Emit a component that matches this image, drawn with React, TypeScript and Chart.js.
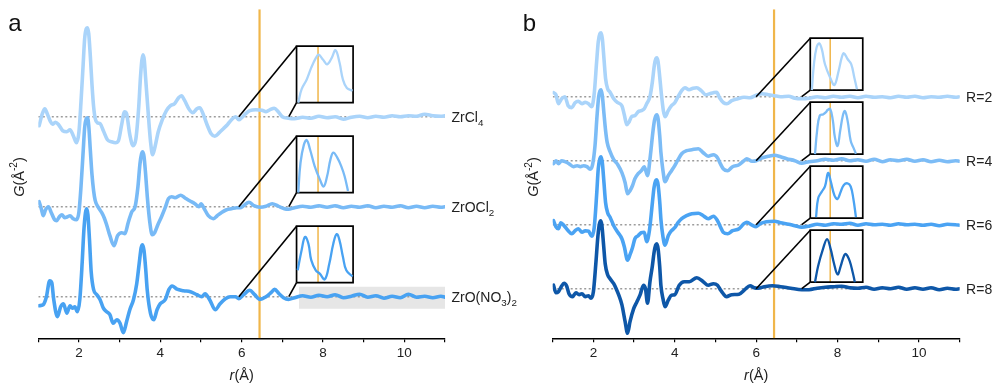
import React, { useEffect, useRef } from 'react';
import { Chart, registerables } from 'chart.js';

Chart.register(...registerables);

type P = [number, number];

// ---------- axis ----------
const R_MIN = 1;
const R_MAX = 11;
const R_LABELED = [2, 4, 6, 8, 10];
const MARK_R = 6.44; // orange marker position (Å)

// ---------- panel a: G(r) curves (value relative to own baseline) ----------
const ZRCL4: P[] = [
  [1.02, -0.9], [1.1, 0.3], [1.16, 0.8], [1.22, 0.3], [1.3, -0.5], [1.35, -0.75], [1.42, -0.55], [1.5, -0.8],
  [1.6, -1.4], [1.7, -1.5], [1.78, -1.3], [1.86, -1.9], [1.94, -2.6], [2.0, -1.5], [2.05, 1.5], [2.1, 5.0],
  [2.14, 7.8], [2.18, 8.8], [2.21, 8.9], [2.24, 8.3], [2.28, 6.0], [2.32, 3.2], [2.36, 1.0], [2.4, -0.2],
  [2.45, -0.6], [2.52, -0.7], [2.6, -1.4], [2.7, -2.3], [2.8, -2.5], [2.9, -2.6], [2.97, -2.4], [3.05, -0.8],
  [3.12, 0.5], [3.17, 0.3], [3.25, -1.8], [3.33, -2.9], [3.4, -2.2], [3.47, 1.0], [3.51, 3.8], [3.545, 5.6],
  [3.575, 6.2], [3.605, 5.7], [3.64, 3.8], [3.7, 0.5], [3.76, -2.5], [3.81, -3.8], [3.87, -3.0], [3.95, -1.5],
  [4.05, -0.3], [4.15, 0.6], [4.25, 1.1], [4.35, 1.3], [4.45, 1.9], [4.52, 2.1], [4.6, 1.6], [4.7, 0.8],
  [4.8, 0.4], [4.9, 0.8], [4.97, 0.9], [5.05, 0.3], [5.15, -0.8], [5.25, -1.7], [5.34, -1.95], [5.45, -1.6],
  [5.55, -1.2], [5.65, -0.8], [5.75, -0.3], [5.85, 0.0], [5.93, -0.3], [6.0, -0.1], [6.1, 0.3], [6.2, 0.6],
  [6.35, 0.7], [6.5, 0.65], [6.6, 0.5], [6.7, 0.7], [6.8, 0.85], [6.9, 0.5], [7.0, 0.0], [7.15, -0.15],
  [7.3, -0.2], [7.5, -0.05], [7.7, -0.15], [7.9, 0.05], [8.1, -0.1], [8.3, 0.0], [8.5, -0.25], [8.7, -0.05],
  [8.9, 0.05], [9.1, -0.1], [9.3, 0.05], [9.5, -0.05], [9.7, 0.1], [9.9, 0.0], [10.1, 0.1], [10.3, 0.05],
  [10.5, 0.25], [10.7, 0.1], [10.9, 0.05], [11.0, 0.1],
];
const ZROCL2: P[] = [
  [1.02, 0.5], [1.08, -0.3], [1.12, -0.9], [1.18, -0.3], [1.25, 0.0], [1.32, -0.6], [1.4, -1.3], [1.45, -1.4],
  [1.52, -1.0], [1.58, -0.8], [1.65, -1.1], [1.72, -1.0], [1.78, -0.9], [1.86, -1.2], [1.94, -1.3], [2.0, -0.5],
  [2.05, 2.0], [2.1, 5.3], [2.14, 7.9], [2.18, 8.8], [2.21, 8.9], [2.24, 8.1], [2.28, 5.6], [2.32, 3.2],
  [2.36, 1.6], [2.4, 0.6], [2.48, -0.1], [2.56, -0.6], [2.62, -1.1], [2.68, -1.8], [2.76, -2.9], [2.86, -3.9],
  [2.95, -2.9], [3.05, -2.6], [3.13, -2.7], [3.21, -1.6], [3.3, -0.5], [3.38, 0.0], [3.45, 2.0], [3.5, 4.3],
  [3.54, 5.3], [3.57, 5.5], [3.6, 5.0], [3.64, 3.2], [3.68, 1.0], [3.74, -1.5], [3.8, -2.8], [3.86, -2.6],
  [3.94, -1.8], [4.04, -0.9], [4.12, -0.1], [4.2, 0.8], [4.28, 1.0], [4.36, 0.9], [4.5, 1.15], [4.6, 0.9],
  [4.72, 0.6], [4.85, 0.3], [4.95, 0.0], [5.0, 0.3], [5.08, -0.2], [5.18, -0.9], [5.3, -1.2], [5.4, -0.9],
  [5.5, -0.6], [5.63, -0.3], [5.75, -0.2], [5.88, -0.1], [5.96, -0.1], [6.05, 0.1], [6.18, 0.45], [6.3, 0.1],
  [6.45, -0.05], [6.6, 0.05], [6.75, 0.3], [6.9, 0.05], [7.05, -0.2], [7.15, -0.25], [7.3, -0.1], [7.5, 0.05],
  [7.7, -0.05], [7.9, 0.1], [8.1, -0.05], [8.3, 0.1], [8.5, -0.1], [8.7, 0.05], [8.9, -0.05], [9.1, 0.1],
  [9.3, -0.1], [9.5, 0.05], [9.7, -0.05], [9.9, 0.1], [10.1, -0.1], [10.3, 0.05], [10.5, -0.1], [10.7, 0.05],
  [10.9, -0.05], [11.0, 0.0],
];
const ZRONO32: P[] = [
  [1.02, -0.9], [1.12, -0.8], [1.2, 0.0], [1.28, 1.6], [1.33, 1.4], [1.38, -0.3], [1.47, -2.0], [1.55, -1.0],
  [1.62, -0.7], [1.7, -1.65], [1.78, -0.9], [1.84, -1.15], [1.9, -1.0], [1.96, -1.5], [2.02, -0.3], [2.08, 3.5],
  [2.12, 6.6], [2.16, 8.4], [2.19, 8.8], [2.22, 8.2], [2.26, 5.6], [2.3, 2.5], [2.36, 0.7], [2.44, 0.2],
  [2.52, -0.3], [2.6, -1.15], [2.68, -1.5], [2.76, -1.8], [2.84, -2.65], [2.93, -2.3], [3.01, -2.65], [3.09, -3.6],
  [3.17, -2.5], [3.25, -1.3], [3.34, -0.3], [3.42, 1.3], [3.48, 3.3], [3.53, 4.9], [3.565, 5.2], [3.6, 4.6],
  [3.64, 2.8], [3.68, 0.6], [3.76, -1.7], [3.84, -2.3], [3.92, -1.3], [4.0, -0.7], [4.12, -0.3], [4.21, 0.7],
  [4.29, 1.07], [4.41, 0.75], [4.57, 0.6], [4.74, 0.5], [4.9, 0.2], [5.02, 0.0], [5.1, 0.3], [5.22, -0.35],
  [5.35, -1.3], [5.47, -0.7], [5.6, -0.2], [5.72, 0.0], [5.85, 0.0], [5.93, -0.2], [6.05, 0.2], [6.2, 0.65],
  [6.32, 0.2], [6.45, -0.27], [6.6, 0.0], [6.72, 0.4], [6.81, 0.73], [6.92, 0.3], [7.03, -0.1], [7.15, -0.27],
  [7.3, -0.1], [7.5, 0.1], [7.7, -0.05], [7.9, 0.15], [8.1, 0.0], [8.3, 0.2], [8.5, -0.1], [8.7, 0.05],
  [8.9, 0.25], [9.1, -0.05], [9.3, 0.1], [9.5, -0.15], [9.7, 0.05], [9.9, -0.1], [10.1, 0.25], [10.3, -0.05],
  [10.5, 0.05], [10.7, -0.1], [10.9, 0.05], [11.0, -0.05],
];

// ---------- panel b ----------
const R2: P[] = [
  [1.02, 0.4], [1.08, 0.2], [1.14, -0.7], [1.22, -0.2], [1.3, 0.0], [1.38, -0.9], [1.47, -1.1], [1.55, -0.6],
  [1.63, -0.45], [1.72, -0.7], [1.8, -0.55], [1.88, -0.7], [1.96, -1.0], [2.02, 0.3], [2.08, 3.5], [2.12, 5.5],
  [2.16, 6.3], [2.19, 6.4], [2.22, 5.8], [2.26, 3.8], [2.3, 1.8], [2.35, 0.8], [2.41, 0.45], [2.5, -0.2],
  [2.6, -0.6], [2.7, -0.9], [2.76, -1.8], [2.82, -2.8], [2.88, -2.5], [2.94, -2.0], [3.02, -1.9], [3.1, -1.5],
  [3.18, -1.4], [3.25, -1.2], [3.31, -0.7], [3.39, 0.0], [3.45, 1.5], [3.5, 3.2], [3.535, 3.8], [3.56, 3.9],
  [3.59, 3.5], [3.63, 2.0], [3.67, 0.3], [3.72, -1.4], [3.76, -2.0], [3.84, -1.4], [3.92, -0.9], [4.0, -0.6],
  [4.08, 0.0], [4.17, 0.6], [4.25, 0.9], [4.35, 0.7], [4.45, 0.85], [4.54, 0.9], [4.65, 0.6], [4.76, 0.2],
  [4.86, 0.3], [4.95, 0.4], [5.03, 0.45], [5.1, -0.1], [5.2, -0.6], [5.28, -0.7], [5.4, -0.4], [5.55, -0.2],
  [5.7, -0.05], [5.85, -0.1], [6.0, 0.15], [6.15, 0.3], [6.3, 0.2], [6.45, 0.1], [6.6, 0.0], [6.8, 0.05],
  [6.95, -0.15], [7.12, -0.2], [7.3, -0.15], [7.5, 0.0], [7.7, -0.1], [7.9, 0.05], [8.1, -0.05], [8.3, 0.05],
  [8.5, -0.1], [8.7, 0.05], [8.9, -0.05], [9.1, 0.0], [9.3, -0.1], [9.5, 0.05], [9.7, -0.05], [9.9, 0.05],
  [10.1, -0.1], [10.3, 0.0], [10.5, -0.05], [10.7, 0.05], [10.9, -0.05], [11.0, 0.0],
];
const R4: P[] = [
  [1.02, -0.3], [1.08, 0.0], [1.14, -0.3], [1.22, 0.0], [1.3, -0.1], [1.4, -0.3], [1.51, -0.6], [1.6, -0.5],
  [1.68, -0.6], [1.76, -0.5], [1.84, -0.6], [1.92, -0.85], [1.98, -0.4], [2.04, 1.5], [2.09, 4.5], [2.13, 6.4],
  [2.165, 7.0], [2.19, 7.1], [2.22, 6.5], [2.26, 4.7], [2.3, 3.0], [2.34, 1.8], [2.41, 0.9], [2.5, 0.1],
  [2.6, -0.4], [2.7, -1.2], [2.78, -2.2], [2.84, -3.3], [2.9, -3.0], [2.96, -2.5], [3.02, -1.8], [3.1, -1.3],
  [3.18, -1.0], [3.25, -0.6], [3.33, -1.5], [3.4, 0.5], [3.46, 2.8], [3.5, 4.0], [3.535, 4.5], [3.56, 4.6],
  [3.59, 4.2], [3.63, 2.5], [3.66, 0.8], [3.71, -1.0], [3.76, -2.1], [3.84, -1.5], [3.92, -1.0], [4.0, -0.5],
  [4.08, 0.1], [4.17, 0.7], [4.29, 1.0], [4.42, 1.1], [4.58, 1.2], [4.7, 0.8], [4.82, 0.45], [4.95, 0.6],
  [5.05, 0.3], [5.12, -0.3], [5.19, -0.8], [5.3, -1.0], [5.42, -0.6], [5.58, -0.4], [5.7, 0.0], [5.77, 0.2],
  [5.9, -0.05], [6.0, 0.0], [6.15, 0.3], [6.3, 0.45], [6.45, 0.55], [6.6, 0.4], [6.75, 0.2], [6.95, 0.0],
  [7.12, -0.25], [7.3, -0.1], [7.5, 0.0], [7.7, 0.15], [7.9, 0.05], [8.1, 0.2], [8.3, 0.0], [8.5, 0.1],
  [8.7, -0.05], [8.9, 0.15], [9.1, -0.1], [9.3, 0.1], [9.5, 0.0], [9.7, 0.15], [9.9, -0.05], [10.1, 0.1],
  [10.3, -0.1], [10.5, 0.05], [10.7, -0.1], [10.9, 0.0], [11.0, -0.05],
];
const R6: P[] = [
  [1.02, 0.4], [1.08, -0.2], [1.14, -0.4], [1.2, 0.2], [1.28, -0.1], [1.36, -0.5], [1.47, -0.9], [1.55, -0.6],
  [1.63, -0.4], [1.72, -0.75], [1.8, -0.6], [1.88, -0.65], [1.96, -1.15], [2.02, -0.3], [2.08, 3.0], [2.12, 5.6],
  [2.16, 6.6], [2.19, 6.8], [2.22, 6.2], [2.26, 4.2], [2.3, 2.2], [2.35, 1.2], [2.41, 0.75], [2.5, -0.1],
  [2.6, -0.75], [2.7, -1.4], [2.76, -2.2], [2.84, -3.55], [2.9, -3.0], [2.96, -2.3], [3.02, -1.4], [3.1, -1.1],
  [3.18, -0.8], [3.25, -0.75], [3.31, -1.7], [3.38, -0.5], [3.45, 2.2], [3.49, 3.7], [3.53, 4.4], [3.56, 4.5],
  [3.59, 4.0], [3.63, 2.3], [3.66, 0.5], [3.71, -1.2], [3.76, -2.05], [3.84, -1.1], [3.92, -0.6], [4.0, -0.3],
  [4.08, 0.2], [4.17, 0.6], [4.29, 0.9], [4.42, 1.1], [4.58, 1.15], [4.7, 0.9], [4.82, 0.6], [4.95, 0.85],
  [5.05, 0.4], [5.12, -0.2], [5.19, -0.75], [5.3, -0.9], [5.42, -0.6], [5.58, -0.4], [5.7, 0.1], [5.77, 0.25],
  [5.9, -0.05], [6.0, -0.2], [6.1, 0.1], [6.25, 0.3], [6.45, 0.35], [6.6, 0.2], [6.8, 0.05], [6.95, -0.1],
  [7.12, -0.25], [7.3, -0.15], [7.5, 0.05], [7.7, -0.05], [7.9, 0.1], [8.1, 0.05], [8.3, 0.15], [8.5, -0.05],
  [8.7, 0.1], [8.9, 0.0], [9.1, 0.05], [9.3, -0.05], [9.5, 0.1], [9.7, 0.0], [9.9, 0.05], [10.1, -0.05],
  [10.3, 0.05], [10.5, -0.1], [10.7, 0.05], [10.9, 0.0], [11.0, -0.05],
];
const R8: P[] = [
  [1.02, 0.35], [1.08, -0.4], [1.14, -0.3], [1.21, 0.2], [1.28, 0.55], [1.34, 0.3], [1.4, -0.5], [1.49, -0.8],
  [1.57, -0.4], [1.65, -0.6], [1.72, -0.5], [1.8, -0.8], [1.88, -0.7], [1.94, -0.95], [2.0, -0.3], [2.06, 2.5],
  [2.11, 5.2], [2.15, 6.5], [2.185, 6.8], [2.21, 6.3], [2.25, 4.4], [2.29, 2.5], [2.35, 1.4], [2.41, 1.0],
  [2.5, 0.5], [2.56, 0.0], [2.62, -0.6], [2.7, -1.6], [2.78, -3.3], [2.84, -4.45], [2.9, -3.3], [2.99, -2.0],
  [3.07, -1.3], [3.15, -0.6], [3.23, 0.35], [3.28, 0.0], [3.33, -1.45], [3.39, 0.7], [3.45, 2.3], [3.49, 3.6],
  [3.53, 4.35], [3.56, 4.5], [3.59, 4.0], [3.63, 2.2], [3.66, 0.3], [3.71, -1.0], [3.76, -1.8], [3.84, -1.15],
  [3.92, -0.65], [4.0, -0.6], [4.11, 0.35], [4.23, 0.7], [4.36, 0.7], [4.54, 1.1], [4.7, 0.7], [4.82, 0.35],
  [4.95, 0.5], [5.05, 0.35], [5.12, -0.1], [5.19, -0.5], [5.27, -0.8], [5.4, -0.6], [5.58, -0.55], [5.72, -0.1],
  [5.85, 0.3], [5.95, 0.1], [6.05, 0.05], [6.2, 0.2], [6.4, 0.3], [6.6, 0.2], [6.85, 0.05], [7.12, -0.1],
  [7.3, -0.1], [7.5, 0.05], [7.7, 0.15], [7.9, 0.2], [8.1, 0.25], [8.3, 0.1], [8.5, 0.05], [8.7, 0.15],
  [8.9, -0.05], [9.1, 0.1], [9.3, 0.0], [9.5, 0.15], [9.7, -0.05], [9.9, 0.1], [10.1, -0.05], [10.3, 0.1],
  [10.5, -0.1], [10.7, 0.05], [10.9, -0.05], [11.0, 0.0],
];

// ---------- zoomed insets (normalised 0..1 within each box) ----------
const INSET_ZRCL4: P[] = [[0.03, 0], [0.09, 0.24], [0.18, 0.41], [0.26, 0.62], [0.34, 0.79], [0.39, 0.85], [0.47, 0.76], [0.54, 0.68], [0.62, 0.79], [0.69, 0.93], [0.76, 0.71], [0.82, 0.41], [0.89, 0.26], [0.99, 0.21]];
const INSET_ZROCL2: P[] = [[0.03, 0], [0.07, 0.53], [0.13, 0.85], [0.18, 0.93], [0.24, 0.76], [0.32, 0.47], [0.41, 0.24], [0.48, 0.11], [0.54, 0.29], [0.6, 0.59], [0.65, 0.71], [0.72, 0.62], [0.79, 0.47], [0.85, 0.29], [0.91, 0.03]];
const INSET_ZRONO32: P[] = [[0.02, 0.22], [0.09, 0.58], [0.15, 0.81], [0.21, 0.69], [0.26, 0.4], [0.34, 0.22], [0.41, 0.16], [0.5, 0.06], [0.58, 0.34], [0.65, 0.69], [0.71, 0.86], [0.76, 0.75], [0.82, 0.46], [0.88, 0.22], [0.99, 0.11]];
const INSET_R2: P[] = [[0.03, 0], [0.07, 0.5], [0.12, 0.82], [0.17, 0.9], [0.22, 0.79], [0.28, 0.5], [0.38, 0.24], [0.46, 0.1], [0.54, 0.37], [0.6, 0.63], [0.64, 0.71], [0.71, 0.6], [0.78, 0.5], [0.84, 0.24], [0.89, 0.02]];
const INSET_R4: P[] = [[0.09, 0], [0.13, 0.45], [0.18, 0.74], [0.25, 0.77], [0.3, 0.81], [0.33, 0.85], [0.38, 0.87], [0.43, 0.65], [0.47, 0.32], [0.52, 0.16], [0.57, 0.45], [0.62, 0.74], [0.66, 0.83], [0.71, 0.65], [0.77, 0.26], [0.82, 0.13], [0.87, 0.01]];
const INSET_R6: P[] = [[0.11, 0.02], [0.15, 0.38], [0.22, 0.51], [0.28, 0.61], [0.34, 0.87], [0.39, 0.71], [0.46, 0.44], [0.52, 0.37], [0.58, 0.51], [0.64, 0.64], [0.71, 0.67], [0.77, 0.61], [0.82, 0.38], [0.87, 0.02]];
const INSET_R8: P[] = [[0.09, 0], [0.15, 0.31], [0.24, 0.63], [0.32, 0.83], [0.39, 0.63], [0.45, 0.37], [0.52, 0.15], [0.58, 0.31], [0.64, 0.5], [0.68, 0.54], [0.75, 0.41], [0.81, 0.18], [0.85, 0]];
const INSET_MARK_U = 0.38;

// ---------- labels / offsets / colours ----------
const A_LABELS = ['ZrCl_4', 'ZrOCl_2', 'ZrO(NO_3)_2'];
const B_LABELS = ['R=2', 'R=4', 'R=6', 'R=8'];
const A_OFFSETS = [18, 9, 0];
const B_OFFSETS = [19.2, 12.8, 6.4, 0];
const A_COLORS = ['#AAD4FA', '#78BAF6', '#48A2F2'];
const B_COLORS = ['#AAD4FA', '#7CBCF6', '#4AA3F3', '#0E57A8'];
const ORANGE = '#F0B64A';
const FONT = '"Liberation Sans", Arial, Helvetica, sans-serif';

const PANELS = [
  {
    id: 'a', letter: 'a', left: 0, width: 530,
    curves: [ZRCL4, ZROCL2, ZRONO32], insets: [INSET_ZRCL4, INSET_ZROCL2, INSET_ZRONO32],
    labels: A_LABELS, offsets: A_OFFSETS, colors: A_COLORS,
    yMin: -4.16, yMax: 28.74, leftW: 38.3, rightPad: 85,
    box: { x0: 7.35, x1: 8.74, y0: 1.4, y1: 7.05 }, zoomFrom: [5.93, 7.16],
    band: { x0: 7.41, x1: 11, y0: -1.2, y1: 1.0, index: 2 },
  },
  {
    id: 'b', letter: 'b', left: 500, width: 493,
    curves: [R2, R4, R6, R8], insets: [INSET_R2, INSET_R4, INSET_R6, INSET_R8],
    labels: B_LABELS, offsets: B_OFFSETS, colors: B_COLORS,
    yMin: -4.96, yMax: 27.94, leftW: 52.7, rightPad: 33.4,
    box: { x0: 7.33, x1: 8.62, y0: 0.65, y1: 5.85 }, zoomFrom: [6.0, 7.12],
    band: null,
  },
];

type Seg = { t: string; sub?: boolean; sup?: boolean; italic?: boolean };

function parseLabel(s: string): Seg[] {
  return s.split(/(_\d)/).filter(Boolean).map((p) => (p.startsWith('_') ? { t: p.slice(1), sub: true } : { t: p }));
}

function drawRich(ctx: CanvasRenderingContext2D, segs: Seg[], x: number, y: number, size: number, align: string) {
  const fontOf = (s: Seg) => `${s.italic ? 'italic ' : ''}${s.sub || s.sup ? size * 0.7 : size}px ${FONT}`;
  let total = 0;
  const widths = segs.map((s) => {
    ctx.font = fontOf(s);
    const w = ctx.measureText(s.t).width;
    total += w;
    return w;
  });
  let cx = align === 'center' ? x - total / 2 : x;
  const base = y + size * 0.36;
  ctx.textBaseline = 'alphabetic';
  ctx.textAlign = 'left';
  segs.forEach((s, i) => {
    ctx.font = fontOf(s);
    const dy = s.sub ? size * 0.28 : s.sup ? -size * 0.42 : 0;
    ctx.fillText(s.t, cx, base + dy);
    cx += widths[i];
  });
}

function textPlugin(panel: any) {
  return {
    id: 'texts_' + panel.id,
    afterDraw(chart: any) {
      const { ctx, chartArea, scales } = chart;
      ctx.save();
      ctx.fillStyle = '#222';
      panel.labels.forEach((lab: string, i: number) => {
        const y = scales.y.getPixelForValue(panel.offsets[i]);
        drawRich(ctx, parseLabel(lab), chartArea.right + 6.5, y, 14, 'left');
      });
      ctx.fillStyle = '#111';
      ctx.font = `24px ${FONT}`;
      ctx.textBaseline = 'alphabetic';
      ctx.textAlign = 'left';
      ctx.fillText(panel.letter, chartArea.left - 30, 31);
      ctx.fillStyle = '#222';
      ctx.save();
      ctx.translate(chartArea.left - 20, 177);
      ctx.rotate(-Math.PI / 2);
      drawRich(ctx, [{ t: 'G', italic: true }, { t: '(Å' }, { t: '-2', sup: true }, { t: ')' }], 0, 0, 14.5, 'center');
      ctx.restore();
      drawRich(ctx, [{ t: 'r', italic: true }, { t: '(Å)' }], (chartArea.left + chartArea.right) / 2, 375, 14.5, 'center');
      ctx.restore();
    },
  };
}

function buildDatasets(panel: any) {
  const ds: any[] = [];
  const b = panel.box;
  const line = (data: any[], color: string, width: number, order: number, extra: any = {}) => ({
    data, borderColor: color, borderWidth: width, pointRadius: 0, order, tension: 0, fill: false, ...extra,
  });
  panel.curves.forEach((curve: P[], i: number) => {
    const off = panel.offsets[i];
    ds.push(line(curve.map(([x, y]) => ({ x, y: y + off })), panel.colors[i], 3.6, 2, { cubicInterpolationMode: 'monotone', borderJoinStyle: 'round', borderCapStyle: 'round' }));
    ds.push(line([{ x: R_MIN, y: off }, { x: R_MAX, y: off }], '#9C9C9C', 1.5, 4, { borderDash: [2, 2.5] }));
    ds.push(line([
      { x: b.x0, y: off + b.y0 }, { x: b.x1, y: off + b.y0 }, { x: b.x1, y: off + b.y1 },
      { x: b.x0, y: off + b.y1 }, { x: b.x0, y: off + b.y0 },
    ], '#000', 1.7, 1, { borderJoinStyle: 'miter' }));
    ds.push(line([{ x: panel.zoomFrom[0], y: off }, { x: b.x0, y: off + b.y1 }], '#000', 1.6, 1));
    ds.push(line([{ x: panel.zoomFrom[1], y: off }, { x: b.x0, y: off + b.y0 }], '#000', 1.6, 1));
    const mx = b.x0 + INSET_MARK_U * (b.x1 - b.x0);
    ds.push(line([{ x: mx, y: off + b.y0 }, { x: mx, y: off + b.y1 }], ORANGE, 1.5, 1));
    ds.push(line(panel.insets[i].map(([u, v]: P) => ({ x: b.x0 + u * (b.x1 - b.x0), y: off + b.y0 + v * (b.y1 - b.y0) })), panel.colors[i], 2.3, 0, { tension: 0.4, borderJoinStyle: 'round' }));
  });
  ds.push(line([{ x: MARK_R, y: panel.yMin }, { x: MARK_R, y: panel.yMax }], ORANGE, 2.2, 3));
  if (panel.band) {
    const g = panel.band;
    const off = panel.offsets[g.index];
    ds.push(line([
      { x: g.x0, y: off + g.y1 }, { x: g.x1, y: off + g.y1 }, { x: g.x1, y: off + g.y0 }, { x: g.x0, y: off + g.y0 },
    ], 'rgba(0,0,0,0)', 0, 5, { fill: 'shape', backgroundColor: '#E6E6E6' }));
  }
  return ds;
}

function Panel({ panel }: { panel: any }) {
  const ref = useRef<HTMLCanvasElement | null>(null);
  useEffect(() => {
    if (!ref.current) return;
    const chart = new Chart(ref.current, {
      type: 'line',
      data: { datasets: buildDatasets(panel) },
      options: {
        responsive: false,
        maintainAspectRatio: false,
        animation: false,
        events: [],
        layout: { padding: { top: 9.3, right: panel.rightPad, left: 0, bottom: 0 } },
        plugins: { legend: { display: false }, tooltip: { enabled: false } },
        scales: {
          x: {
            type: 'linear', min: R_MIN, max: R_MAX,
            afterFit: (s: any) => { s.height = 44.7; },
            ticks: {
              stepSize: 1, autoSkip: false, maxRotation: 0, padding: 3, color: '#222',
              font: { size: 13.5, family: FONT },
              callback: (v: any) => (R_LABELED.includes(Number(v)) ? String(v) : ''),
            },
            grid: { drawOnChartArea: false, drawTicks: true, tickLength: 4, color: '#000', lineWidth: 1.2 },
            border: { display: true, color: '#000', width: 1.5 },
          },
          y: {
            type: 'linear', min: panel.yMin, max: panel.yMax,
            afterFit: (s: any) => { s.width = panel.leftW; },
            ticks: { display: false },
            grid: { display: false },
            border: { display: false },
          },
        },
      } as any,
      plugins: [textPlugin(panel)],
    });
    return () => chart.destroy();
  }, [panel]);
  return (
    <canvas
      ref={ref}
      width={panel.width}
      height={383}
      style={{ position: 'absolute', left: panel.left, top: 0, width: panel.width, height: 383 }}
    />
  );
}

export default function App() {
  return (
    <div style={{ position: 'absolute', left: 0, top: 0, width: 993, height: 383, background: '#fff', overflow: 'hidden' }}>
      {PANELS.map((p) => (
        <Panel key={p.id} panel={p} />
      ))}
    </div>
  );
}
